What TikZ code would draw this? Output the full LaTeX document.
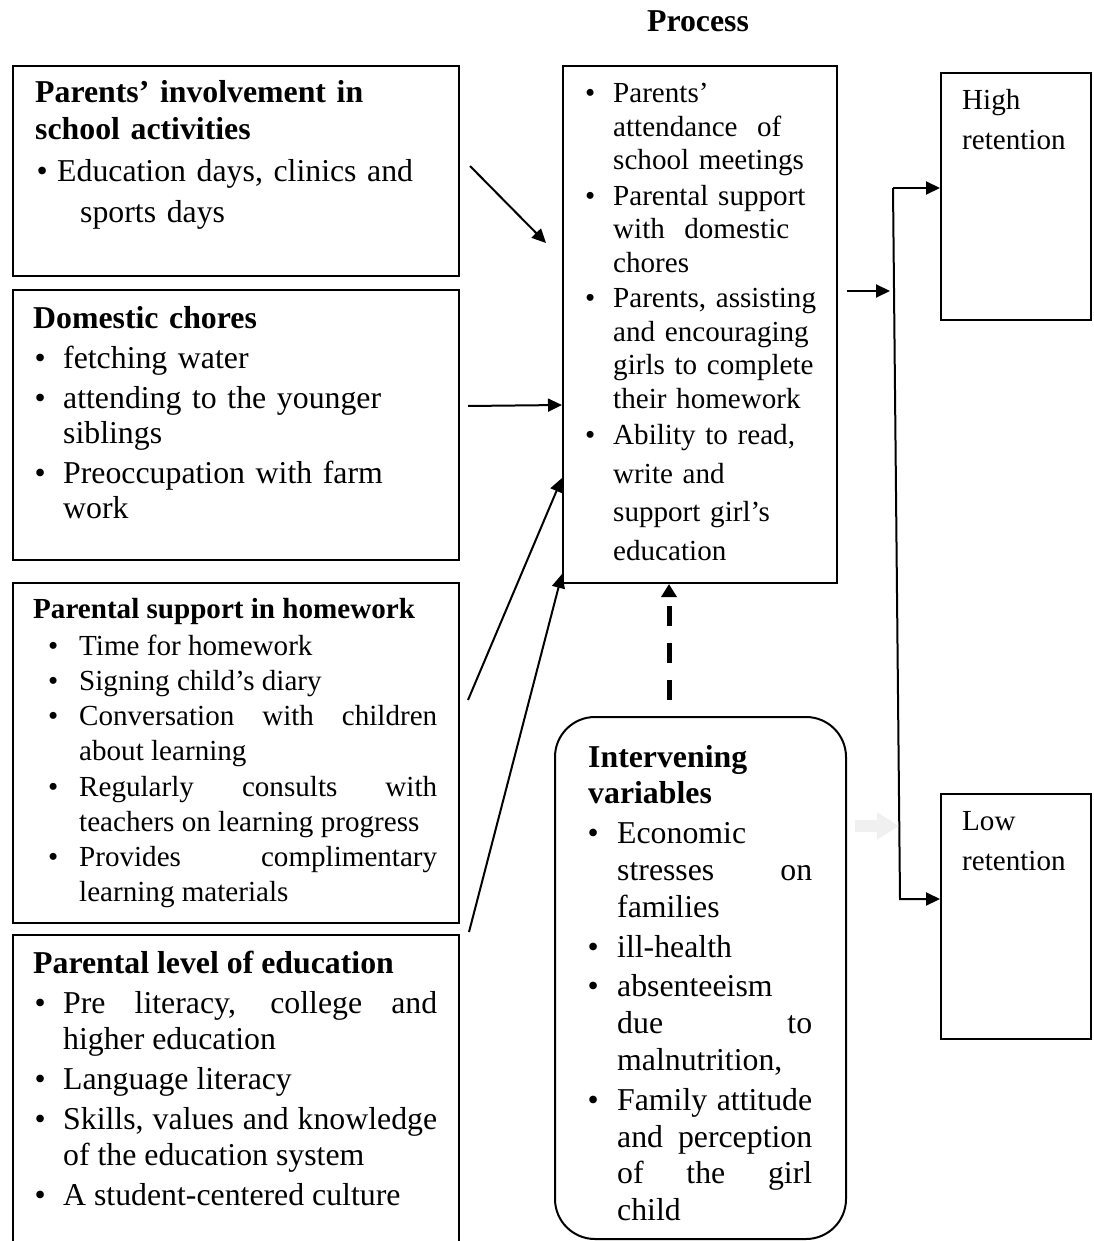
\documentclass[tikz,border=0pt]{standalone}
\usepackage{fontspec}
\setmainfont{Liberation Serif}
\usetikzlibrary{arrows.meta,calc}
\newlength\bulind
\newlength\bulhang
\newcommand\bul[1]{\noindent\hangindent=\bulhang\hangafter=1\makebox[\bulhang][l]{\hspace*{\bulind}\makebox[0pt]{\textbullet}}#1\par}
\newcommand\bigtext{\fontsize{31.8}{37}\selectfont}
\newcommand\smalltext{\fontsize{29.1}{34.8}\selectfont}
\tikzset{
  box/.style={rectangle,draw,line width=2pt,anchor=north west,inner sep=0pt},
  roundbox/.style={box,rounded corners=40pt},
  txt/.style={anchor=base west,inner sep=0pt,align=left},
  jtxt/.style={txt,align=justify},
  arrow/.style={-{Triangle[length=14pt,width=13pt]},line width=2pt},
  dasharrow/.style={-{Triangle[length=13pt,width=15pt]},line width=5pt,dash pattern=on 20pt off 17pt},
  fadearrow/.style={-{Triangle[length=22pt,width=26pt]},line width=12pt,draw=black!6}
}

\begin{document}
\begin{tikzpicture}[x=1pt,y=-1pt]
  \useasboundingbox (0,0) rectangle (1093,1241);
  \node[anchor=base,inner sep=0pt,font=\bigtext\bfseries] (title) at (698,32) {Process};

  % left column
  \node[box,minimum width=446,minimum height=210] (inv) at (12,65) {};
  \node[box,minimum width=446,minimum height=270] (chores) at (12,289) {};
  \node[box,minimum width=446,minimum height=340] (hw) at (12,582) {};
  \node[box,minimum width=446,minimum height=340] (edu) at (12,934) {};

  % middle and right
  \node[box,minimum width=274,minimum height=517] (proc) at (562,65) {};
  \node[roundbox,minimum width=291,minimum height=522] (interv) at (554,716) {};
  \node[box,minimum width=150,minimum height=247] (high) at (940,72) {};
  \node[box,minimum width=150,minimum height=245] (low) at (940,793) {};

  \node[txt,text width=410,font=\bigtext] (invtext) at (35,103) {%
    \setlength\bulind{7pt}\setlength\bulhang{22pt}%
    {\bfseries Parents’ involvement in\newline school activities\par}%
    \vspace{5pt}%
    \bul{Education days, clinics and}%
    \vspace{4pt}%
    \noindent\hspace*{45pt}sports days\par};
  \node[txt,text width=410,font=\bigtext] (chorestext) at (33,328) {%
    \fontsize{31.8}{35}\selectfont\setlength\parskip{5pt}%
    \setlength\bulind{7pt}\setlength\bulhang{30pt}%
    {\bfseries Domestic chores\par}%
    \bul{fetching water}%
    \bul{attending to the younger\newline siblings}%
    \bul{Preoccupation with farm\newline work}};
  \node[jtxt,text width=404,font=\smalltext] (hwtext) at (33,618) {%
    \fontsize{29.1}{35.2}\selectfont
    \setlength\bulind{20pt}\setlength\bulhang{46pt}%
    {\bfseries Parental support in homework\par}%
    \vspace{2pt}%
    \bul{Time for homework}%
    \bul{Signing child’s diary}%
    \bul{Conversation with children\linebreak about learning}%
    \bul{Regularly consults with\linebreak teachers on learning progress}%
    \bul{Provides complimentary\linebreak learning materials}};
  \node[jtxt,text width=404,font=\bigtext] (edutext) at (33,973) {%
    \fontsize{31.8}{36}\selectfont\setlength\parskip{4pt}%
    \setlength\bulind{7pt}\setlength\bulhang{30pt}%
    {\bfseries Parental level of education\par}%
    \bul{Pre literacy, college and\linebreak higher education}%
    \bul{Language literacy}%
    \bul{Skills, values and knowledge\linebreak of the education system}%
    \bul{A student-centered culture}};

  \node[txt,text width=245,font=\smalltext] (proctext) at (580,103) {%
    \fontsize{29.1}{33.5}\selectfont\setlength\parskip{2pt}%
    \setlength\bulind{10pt}\setlength\bulhang{33pt}%
    \bul{Parents’\newline attendance\ \ of\newline school meetings}%
    \bul{Parental support\newline with\ \ domestic\newline chores}%
    \bul{Parents, assisting\newline and encouraging\newline girls to complete\newline their homework}%
    \vspace{-4pt}%
    {\fontsize{29.1}{38.5}\selectfont\bul{Ability to read,\newline write and\newline support girl’s\newline education}}};
  \node[jtxt,text width=224,font=\bigtext] (intertext) at (588,767) {%
    \fontsize{31.8}{36.8}\selectfont\setlength\parskip{3pt}%
    \setlength\bulind{5pt}\setlength\bulhang{29pt}%
    {\bfseries Intervening\newline variables\par}%
    \bul{Economic\newline stresses on\linebreak families}%
    \bul{ill-health}%
    \bul{absenteeism\newline due to\linebreak malnutrition,}%
    \bul{Family attitude\linebreak and perception\linebreak of the girl\linebreak child}};
  \node[txt,text width=120,font=\smalltext] (hightext) at (962,110) {%
    \fontsize{29.1}{40}\selectfont High\newline retention\par};
  \node[txt,text width=120,font=\smalltext] (lowtext) at (962,830) {%
    \fontsize{29.1}{40}\selectfont Low\newline retention\par};

  % arrows into the process box
  \draw[arrow] ($(inv.east)+(10,-5)$) -- ($(proc.north west)+(-16,178)$);
  \draw[arrow] ($(chores.east)+(8,-19)$) -- ($(proc.north west)+(0,340)$);
  \draw[arrow] ($(hw.north east)+(8,118)$) -- ($(proc.north west)+(0,413)$);
  \draw[arrow] ($(edu.north east)+(9,-2)$) -- ($(proc.south west)+(0,-10)$);
  \draw[dasharrow] ($(interv.north)+(-31.5,-16)$) -- ($(proc.south)+(-31,0)$);

  % outcome
  \coordinate (split) at ($(high.west)+(-47,-8.5)$);
  \coordinate (bend) at ($(low.west)+(-40,-17.5)$);
  \draw[arrow] ($(proc.east)+(9,-33.5)$) -- ($(proc.east)+(52,-33.5)$);
  \draw[arrow] (split) -- (high.west |- split);
  \draw[arrow] (split) -- (bend) -- (low.west |- bend);
  \draw[fadearrow] ($(interv.east)+(8,-152)$) -- ($(interv.east)+(52,-152)$);
\end{tikzpicture}
\end{document}
